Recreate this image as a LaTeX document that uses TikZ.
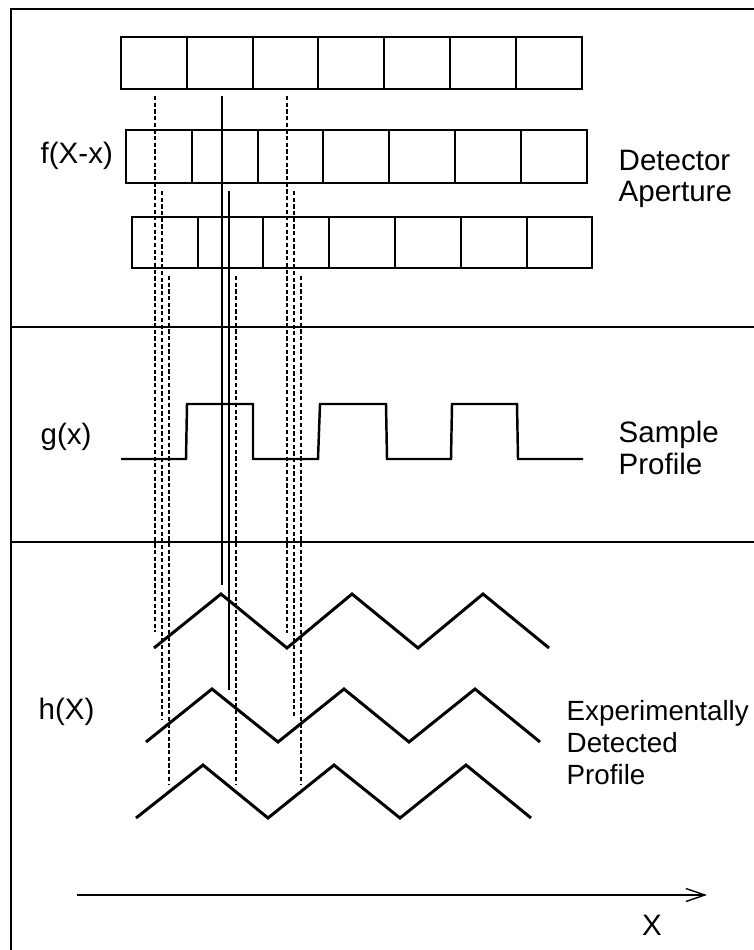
\documentclass[tikz,border=0pt]{standalone}
\usepackage{fontspec}
\setmainfont{Liberation Sans}
\usetikzlibrary{arrows.meta}

\begin{document}
\begin{tikzpicture}[x=1cm,y=-1cm,
    cellrow/.style={line width=0.65pt},
    divider/.style={line width=0.4pt},
    profile/.style={line width=0.7pt, line join=miter},
    zigzag/.style={line width=0.85pt, line join=miter},
    projdash/.style={line width=0.3pt, dash pattern=on 1.2pt off 0.7pt},
    projline/.style={line width=0.3pt},
    lbl/.style={inner sep=0pt, font=\fontsize{8.4}{9.1}\selectfont, align=left},
    >={Straight Barb[length=1.9mm,width=1.3mm]}]
            \useasboundingbox (0,0) rectangle (7.54,9.50);
            % frame and section lines
            \draw [divider] (7.54,0.09) -- (0.11,0.09) -- (0.11,9.50);
            \draw [divider] (0.11,3.27) -- (7.54,3.27);
            \draw [divider] (0.11,5.42) -- (7.54,5.42);
            % detector aperture, three positions
            \draw [cellrow] (1.21,0.37) rectangle (5.82,0.89);
            \draw [cellrow] (1.87,0.37) -- (1.87,0.89) (2.53,0.37) -- (2.53,0.89) (3.18,0.37) -- (3.18,0.89)
                            (3.84,0.37) -- (3.84,0.89) (4.50,0.37) -- (4.50,0.89) (5.16,0.37) -- (5.16,0.89);
            \draw [cellrow] (1.26,1.30) rectangle (5.87,1.83);
            \draw [cellrow] (1.92,1.30) -- (1.92,1.83) (2.58,1.30) -- (2.58,1.83) (3.23,1.30) -- (3.23,1.83)
                            (3.89,1.30) -- (3.89,1.83) (4.55,1.30) -- (4.55,1.83) (5.21,1.30) -- (5.21,1.83);
            \draw [cellrow] (1.32,2.17) rectangle (5.92,2.68);
            \draw [cellrow] (1.98,2.17) -- (1.98,2.68) (2.63,2.17) -- (2.63,2.68) (3.29,2.17) -- (3.29,2.68)
                            (3.95,2.17) -- (3.95,2.68) (4.61,2.17) -- (4.61,2.68) (5.27,2.17) -- (5.27,2.68);
            % sample profile
            \draw [profile] (1.21,4.59) -- (1.86,4.59) -- (1.87,4.04) -- (2.53,4.04) -- (2.53,4.59)
                            -- (3.18,4.59) -- (3.20,4.04) -- (3.86,4.04) -- (3.87,4.59) -- (4.51,4.59)
                            -- (4.52,4.04) -- (5.17,4.04) -- (5.18,4.59) -- (5.83,4.59);
            % detected profiles
            \draw [zigzag] (1.54,6.48) -- (2.21,5.94) -- (2.87,6.48) -- (3.52,5.94) -- (4.18,6.48) -- (4.83,5.94) -- (5.49,6.48);
            \draw [zigzag] (1.46,7.42) -- (2.12,6.89) -- (2.78,7.42) -- (3.44,6.89) -- (4.09,7.42) -- (4.75,6.89) -- (5.40,7.42);
            \draw [zigzag] (1.36,8.18) -- (2.03,7.65) -- (2.68,8.18) -- (3.34,7.65) -- (4.00,8.18) -- (4.66,7.65) -- (5.31,8.18);
            % projection lines
            \draw [projdash] (1.55,0.96) -- (1.55,6.32);
            \draw [projline] (2.22,0.96) -- (2.22,5.85);
            \draw [projdash] (2.87,0.96) -- (2.87,6.33);
            \draw [projdash] (1.62,1.91) -- (1.62,7.20);
            \draw [projline] (2.29,1.91) -- (2.29,6.90);
            \draw [projdash] (2.94,1.91) -- (2.94,7.18);
            \draw [projdash] (1.69,2.76) -- (1.69,7.85);
            \draw [projdash] (2.36,2.76) -- (2.36,7.85);
            \draw [projdash] (3.01,2.76) -- (3.01,7.85);
            % axis
            \coordinate (axisstart) at (0.77,8.95);
            \coordinate (axisend) at (7.07,8.95);
            \draw [divider, ->] (axisstart) -- (axisend);
            % labels
            \node [lbl, anchor=west] (fXx) at (0.40,1.56) {f(X-x)};
            \node [lbl, anchor=west] (gx) at (0.40,4.37) {g(x)};
            \node [lbl, anchor=west] (hX) at (0.38,7.12) {h(X)};
            \node [lbl, anchor=north west] (detector) at (6.18,1.49) {Detector\\Aperture};
            \node [lbl, anchor=north west] (sample) at (6.18,4.20) {Sample\\Profile};
            \node [lbl, anchor=north west, font=\fontsize{7.9}{9.1}\selectfont] (detected) at (5.66,7.00) {Experimentally\\Detected\\Profile};
            \node [lbl] (Xlabel) at (6.52,9.25) {X};
        \end{tikzpicture}
\end{document}
